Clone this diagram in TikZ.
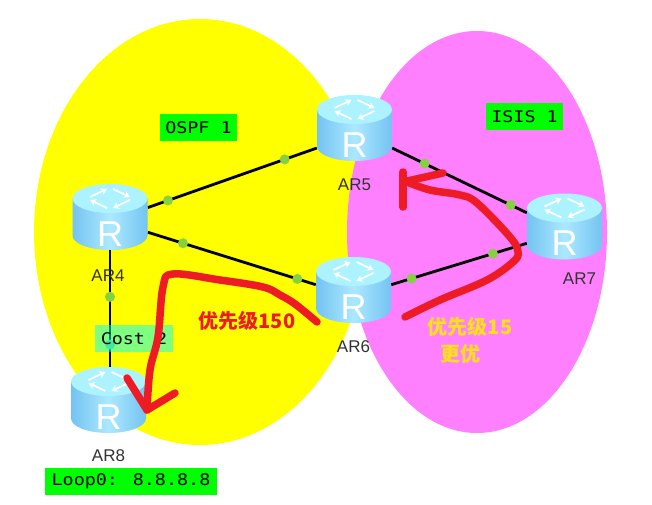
\documentclass[tikz,border=0pt]{standalone}
\usepackage{fontspec}
\setmainfont{Liberation Sans}
\newfontfamily\monofont[FakeStretch=1.15]{DejaVu Sans Mono}
\newfontfamily\cjkfont{Noto Sans CJK SC}
\usetikzlibrary{arrows.meta,positioning}
\definecolor{ospfyellow}{HTML}{FFFF00}
\definecolor{isispink}{HTML}{FF80FF}
\definecolor{tagred}{HTML}{ED1C24}
\definecolor{taggold}{HTML}{FFE01A}
\definecolor{tagtint}{HTML}{00FFFF}
\definecolor{dotgreen}{HTML}{85D044}
\definecolor{routertop}{HTML}{ADF3FF}
\definecolor{routerside}{HTML}{74C3F2}
\definecolor{routermid}{HTML}{ACE9FF}

% router body drawn over its named node
\newcommand{\routerbody}[1]{%
  \begin{scope}[shift={(#1.center)}]
    \shade[left color=routerside, right color=routerside, middle color=routermid]
      (-37.5,-18.5) -- (-37.5,18.5) arc[start angle=180, end angle=360, x radius=37.5pt, y radius=14.5pt]
      -- (37.5,-18.5) -- cycle;
    \fill[routertop] (0,-18.5) ellipse[x radius=37.5pt, y radius=14.5pt];
    \draw[icon] (-20,-20) -- (-3,-28);
    \draw[icon] (3,-28) -- (20,-20);
    \draw[icon] (20,-17) -- (3,-9);
    \draw[icon] (-3,-9) -- (-20,-17);
    \node[routerletter] (#1r) at (0,17) {R};
  \end{scope}}

\begin{document}
\begin{tikzpicture}[
  x=1pt, y=-1pt,
  router/.style={minimum width=75pt, minimum height=66pt, inner sep=0pt},
  routerletter/.style={font=\fontsize{36}{36}\selectfont, text=white, inner sep=0pt},
  icon/.style={draw=white, line width=1.8pt, -{Stealth[length=6pt,width=7pt]}},
  link/.style={draw=black, line width=2.8pt},
  linkdot/.style={circle, fill=dotgreen, minimum size=10pt, inner sep=0pt},
  routername/.style={font=\fontsize{17}{19}\selectfont, text=black!80, inner sep=0pt},
  tag/.style={fill=green, font=\monofont\fontsize{16}{18}\selectfont, inner sep=0pt, minimum height=27pt},
  scribble/.style={draw=tagred, line width=7.5pt, line cap=round, line join=round},
  prio/.style={font=\cjkfont\bfseries\fontsize{20}{22}\selectfont, inner sep=0pt},
]
  \useasboundingbox[fill=white] (0,0) rectangle (652,505);

  %% areas
  \fill[ospfyellow] (200,232) ellipse[x radius=166pt, y radius=213pt];
  \fill[isispink] (477,232) ellipse[x radius=130pt, y radius=201pt];

  %% routers
  \node[router] (ar4) at (110,217) {};
  \node[router] (ar5) at (354.5,128) {};
  \node[router] (ar6) at (353.5,290) {};
  \node[router] (ar7) at (564.5,226.5) {};
  \node[router] (ar8) at (108.5,400) {};

  %% links
  \draw[link] (ar4.14) -- node[linkdot, pos=.12] (d1) {} node[linkdot, pos=.81] (d2) {} (ar5.208);
  \draw[link] (ar4.-22) -- node[linkdot, pos=.21] (d3) {} node[linkdot, pos=.89] (d4) {} (ar6.172);
  \draw[link] (ar5.-28) -- node[linkdot, pos=.24] (d5) {} node[linkdot, pos=.88] (d6) {} (ar7.160);
  \draw[link] (ar6.8) -- node[linkdot, pos=.15] (d7) {} node[linkdot, pos=.75] (d8) {} (ar7.204);
  \draw[link] (ar4.south) -- node[linkdot, pos=.40] (d9) {} node[linkdot, pos=.81] (d10) {} (ar4.south |- ar8.north);

  %% tags
  \node[tag, minimum width=77pt] (ospf) at (198.5,127.5) {OSPF 1};
  \node[tag, minimum width=77pt] (isis) at (524.5,116.5) {ISIS 1};
  \node[tag, minimum width=78pt, fill=tagtint, fill opacity=.5, text opacity=1] (cost) at (134,338.5) {Cost 2};
  \node[tag, minimum width=172pt] (loop) at (131,481.5) {Loop0: 8.8.8.8};

  \routerbody{ar4}
  \routerbody{ar5}
  \routerbody{ar6}
  \routerbody{ar7}
  \routerbody{ar8}

  %% router names
  \node[routername, below=19pt of ar4, xshift=-2pt] (ar4n) {AR4};
  \node[routername, below=17pt of ar5] (ar5n) {AR5};
  \node[routername, below=17pt of ar6] (ar6n) {AR6};
  \node[routername, below=13pt of ar7, xshift=15pt] (ar7n) {AR7};
  \node[routername, below=16pt of ar8] (ar8n) {AR8};

  %% priorities
  \node[prio, text=tagred] (p150) at (247,321) {优先级150};
  \node[prio, text=taggold] (p15) at (470,327) {优先级15};
  \node[prio, text=taggold] (pbest) at (460,354) {更优};

  %% hand-drawn routes
  \draw[scribble] plot[smooth, tension=.6] coordinates {(317,322) (295,304) (280,295) (263,287) (220,280) (173,274) (163,287) (158,337) (150,370) (147,410)};
  \draw[scribble] (127,378) -- (147,410) -- (175,393);
  \draw[scribble] plot[smooth, tension=.6] coordinates {(405,317) (440,300) (487,280) (513,262) (518,252) (510,237) (477,203) (460,195) (430,190) (407,182)};
  \draw[scribble] (403,172) -- (403,207);
  \draw[scribble] (403,182) -- (443,173);
\end{tikzpicture}
\end{document}
